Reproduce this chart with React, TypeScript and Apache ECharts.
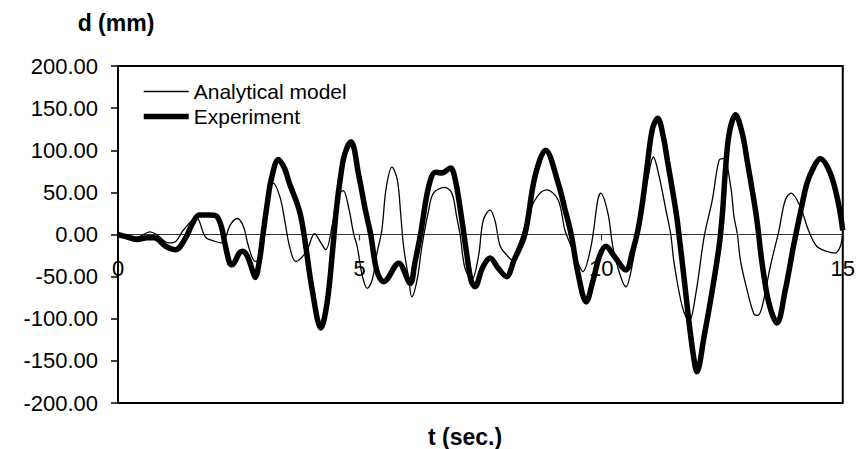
import React, { useEffect, useRef } from "react";
import * as echarts from "echarts";

// Displacement history d (mm) versus time t (s), read as [t, d] pairs.
const analytical: [number, number][] = [
  [0, 0], [0.2, -1], [0.4, -3], [0.66, 3], [0.8, 0], [1.05, -10], [1.2, -8], [1.35, 5],
  [1.62, 20], [1.81, -3], [2.0, -8], [2.15, -10], [2.33, 12], [2.47, 19], [2.6, 9], [2.7, -14],
  [2.84, -32], [2.93, -28], [3.06, 13], [3.13, 49], [3.21, 61], [3.35, 45], [3.45, 17], [3.55, -14],
  [3.68, -32], [3.9, -20], [4.07, 1], [4.2, -10], [4.3, -18], [4.44, 13], [4.54, 45], [4.66, 52],
  [4.78, 30], [4.88, 0], [4.95, -14], [5.06, -50], [5.16, -64], [5.26, -54], [5.36, -22], [5.46, 5],
  [5.55, 55], [5.67, 80], [5.78, 65], [5.85, 25], [5.91, -14], [6.02, -54], [6.08, -74], [6.19, -54],
  [6.29, -14], [6.43, 29], [6.53, 49], [6.76, 56], [6.91, 49], [7.01, 21], [7.08, 0], [7.18, -40],
  [7.32, -54], [7.46, -26], [7.56, 17], [7.7, 29], [7.8, 17], [7.91, -14], [8.04, -24], [8.15, -30],
  [8.28, -14], [8.42, 9], [8.63, 41], [8.87, 53], [9.11, 41], [9.25, 5], [9.38, -14], [9.52, -34],
  [9.62, -44], [9.79, -14], [9.93, 41], [9.99, 49], [10.14, 25], [10.24, -14], [10.38, -46], [10.51, -62],
  [10.65, -34], [10.82, 25], [10.96, 65], [11.08, 92], [11.2, 69], [11.34, 29], [11.44, 0], [11.51, -34],
  [11.68, -86], [11.82, -103], [11.96, -70], [12.13, -3], [12.3, 41], [12.44, 88], [12.54, 90], [12.68, 57],
  [12.75, 21], [12.82, 0], [12.88, -30], [13.02, -66], [13.16, -94], [13.24, -96], [13.33, -86], [13.5, -38],
  [13.68, 5], [13.81, 41], [13.93, 49], [14.12, 33], [14.29, 5], [14.46, -14], [14.67, -20], [14.84, -22],
  [14.95, -14], [15, 2],
];

const experiment: [number, number][] = [
  [0, 0], [0.2, -3], [0.4, -6], [0.6, -4], [0.75, -4], [0.99, -14], [1.19, -18], [1.4, -4],
  [1.54, 13], [1.68, 23], [1.89, 23], [2.03, 22], [2.14, 9], [2.21, -10], [2.31, -34], [2.36, -36],
  [2.51, -22], [2.58, -20], [2.68, -26], [2.79, -44], [2.84, -51], [2.93, -30], [3.0, 0], [3.1, 41],
  [3.17, 65], [3.32, 89], [3.45, 78], [3.54, 62], [3.75, 29], [3.85, 0], [4.02, -66], [4.2, -111],
  [4.33, -80], [4.44, -20], [4.52, 30], [4.61, 70], [4.69, 95], [4.82, 110], [4.99, 68], [5.12, 29],
  [5.23, 0], [5.36, -44], [5.5, -56], [5.81, -34], [6.05, -58], [6.14, -35], [6.26, 0], [6.43, 57],
  [6.57, 74], [6.7, 73], [6.88, 79], [6.98, 65], [7.11, 20], [7.21, -20], [7.31, -55], [7.39, -62],
  [7.54, -40], [7.7, -28], [7.87, -40], [8.04, -50], [8.2, -30], [8.42, 0], [8.63, 69], [8.85, 100],
  [9.11, 61], [9.25, 30], [9.38, 0], [9.52, -46], [9.69, -80], [9.83, -55], [9.97, -25], [10.1, -14],
  [10.26, -25], [10.51, -42], [10.65, -20], [10.76, 5], [10.86, 40], [10.96, 85], [11.06, 125], [11.17, 138],
  [11.29, 115], [11.37, 88], [11.51, 41], [11.58, 14], [11.72, -54], [11.82, -105], [11.92, -148], [11.98, -163],
  [12.13, -121], [12.3, -66], [12.44, -14], [12.51, 25], [12.57, 75], [12.65, 120], [12.78, 142], [12.92, 120],
  [13.02, 88], [13.16, 41], [13.23, 14], [13.33, -34], [13.47, -81], [13.64, -105], [13.81, -66], [13.98, -14],
  [14.12, 25], [14.26, 61], [14.4, 80], [14.53, 90], [14.74, 73], [14.91, 37], [15, 5],
];

const seriesNames = ["Analytical model", "Experiment"];
const seriesWidths = [1.3, 5.5];
const yTitle = "d (mm)";
const xTitle = "t (sec.)";

const FONT = "'Liberation Sans', Arial, Helvetica, sans-serif";

// plot box in pixels
const GRID_LEFT = 118;
const GRID_RIGHT = 12;
const GRID_TOP = 66;
const GRID_BOTTOM = 46;
const CHART_H = 449;

export default function App() {
  const ref = useRef<HTMLDivElement>(null);

  useEffect(() => {
    if (!ref.current) return;
    const chart = echarts.init(ref.current, undefined, { renderer: "svg" });

    // the time axis sits on d = 0, halfway down the symmetric value range
    const plotH = CHART_H - GRID_TOP - GRID_BOTTOM;
    const zeroOffset = -plotH / 2;

    chart.setOption({
      animation: false,
      backgroundColor: "#ffffff",
      textStyle: { fontFamily: FONT, color: "#000" },
      grid: {
        left: GRID_LEFT,
        right: GRID_RIGHT,
        top: GRID_TOP,
        bottom: GRID_BOTTOM,
        show: true,
        borderColor: "#000",
        borderWidth: 2,
        backgroundColor: "transparent",
      },
      legend: {
        orient: "vertical",
        left: 141,
        top: 81,
        padding: 0,
        itemWidth: 45,
        itemHeight: 21,
        itemGap: 4,
        itemStyle: { color: "rgba(0,0,0,0)", borderColor: "rgba(0,0,0,0)", borderWidth: 0 },
        textStyle: { fontFamily: FONT, fontSize: 21, color: "#000", lineHeight: 21 },
        data: seriesNames.map((name, i) => ({
          name,
          lineStyle: { color: "#000", width: seriesWidths[i] },
        })),
      },
      xAxis: {
        type: "value",
        min: 0,
        max: 15,
        interval: 5,
        offset: zeroOffset,
        axisLine: { onZero: false, lineStyle: { color: "#333", width: 1.2 } },
        axisTick: { show: true, inside: false, length: 6, lineStyle: { color: "#333", width: 1.2 } },
        axisLabel: { fontFamily: FONT, fontSize: 22, color: "#000", margin: 23 },
        splitLine: { show: false },
      },
      yAxis: {
        type: "value",
        min: -200,
        max: 200,
        interval: 50,
        axisLine: { show: true, onZero: false, lineStyle: { color: "#000", width: 2 } },
        axisTick: { show: true, length: 7, lineStyle: { color: "#000", width: 1.5 } },
        axisLabel: {
          fontFamily: FONT,
          fontSize: 22,
          color: "#000",
          margin: 20,
          formatter: (v: number) => v.toFixed(2),
        },
        splitLine: { show: false },
      },
      graphic: [
        {
          type: "text",
          x: 116,
          y: 23,
          style: {
            text: yTitle,
            fill: "#000",
            fontFamily: FONT,
            fontSize: 23,
            fontWeight: "bold",
            align: "center",
            verticalAlign: "middle",
          },
        },
        {
          type: "text",
          x: 465,
          y: 437,
          style: {
            text: xTitle,
            fill: "#000",
            fontFamily: FONT,
            fontSize: 23,
            fontWeight: "bold",
            align: "center",
            verticalAlign: "middle",
          },
        },
      ],
      series: [
        {
          name: seriesNames[0],
          type: "line",
          data: analytical,
          showSymbol: false,
          symbol: "none",
          smooth: 0.35,
          lineStyle: { color: "#000", width: seriesWidths[0] },
          itemStyle: { color: "#000" },
          z: 3,
        },
        {
          name: seriesNames[1],
          type: "line",
          data: experiment,
          showSymbol: false,
          symbol: "none",
          smooth: 0.35,
          lineStyle: { color: "#000", width: seriesWidths[1] },
          itemStyle: { color: "#000" },
          z: 2,
        },
      ],
    });
    return () => chart.dispose();
  }, []);

  return (
    <div
      ref={ref}
      style={{ position: "absolute", left: 0, top: 0, width: 858, height: CHART_H }}
    />
  );
}
